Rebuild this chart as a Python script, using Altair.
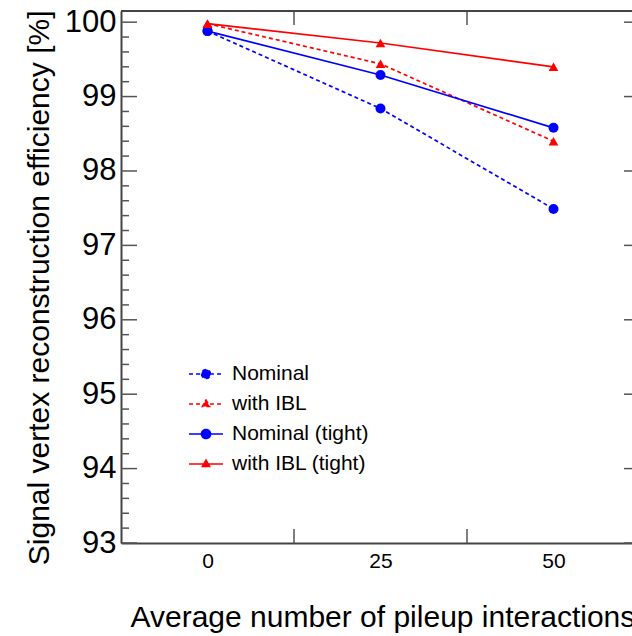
import altair as alt
import pandas as pd

# ---- data ----
pileup = [0, 25, 50]
nominal = [99.88, 98.84, 97.49]
with_ibl = [99.98, 99.44, 98.40]
nominal_tight = [99.88, 99.29, 98.58]
with_ibl_tight = [99.98, 99.72, 99.40]

series_names = ["Nominal", "with IBL", "Nominal (tight)", "with IBL (tight)"]
series_values = [nominal, with_ibl, nominal_tight, with_ibl_tight]
series_colors = ["#0000ff", "#ff0000", "#0000ff", "#ff0000"]
series_dashed = [True, True, False, False]
series_marker = ["circle", "triangle", "circle", "triangle"]

y_major = [93, 94, 95, 96, 97, 98, 99, 100]
y_minor = [round(93 + 0.2 * i, 1) for i in range(36) if i % 5 != 0]
x_labels = [0, 25, 50]
x_ticks = [12.5, 37.5]
x_domain = [-12.5, 62.5]
y_domain = [93, 100.15]

FONT = "Liberation Sans"
W, H = 511, 532
XR = 519  # x scale range end (frame extends past the window edge)

rows = []
for name, vals, dashed, marker in zip(series_names, series_values, series_dashed, series_marker):
    for x, v in zip(pileup, vals):
        rows.append({"series": name, "pileup": x, "eff": v,
                     "dashed": dashed, "marker": marker})
df = pd.DataFrame(rows)

xscale = alt.Scale(domain=x_domain, range=[0, XR], nice=False, zero=False)
yscale = alt.Scale(domain=y_domain, nice=False, zero=False)

xaxis = alt.Axis(
    values=x_labels, format="d", ticks=False, tickSize=0, grid=False,
    domain=True, domainColor="#444444", domainWidth=2,
    labelFont=FONT, labelFontSize=21, labelColor="black", labelPadding=7,
    title="Average number of pileup interactions",
    titleFont=FONT, titleFontSize=30, titleFontWeight="normal", titleColor="black",
    titleAnchor="start", titleAlign="left", titleBaseline="alphabetic",
    titleX=9, titleY=83,
)
yaxis = alt.Axis(
    values=y_major, format="d", ticks=False, tickSize=0, grid=False,
    domain=True, domainColor="#444444", domainWidth=2,
    labelFont=FONT, labelFontSize=31, labelColor="black", labelPadding=5,
    title="Signal vertex reconstruction efficiency [%]",
    titleFont=FONT, titleFontSize=30, titleFontWeight="normal", titleColor="black",
    titleAnchor="end", titleAlign="right", titleBaseline="alphabetic",
    titleAngle=270, titleX=-73, titleY=-1,
)


def xenc(field="pileup"):
    return alt.X(f"{field}:Q", scale=xscale, axis=xaxis)


def yenc(field="eff"):
    return alt.Y(f"{field}:Q", scale=yscale, axis=yaxis)


# colour scale for the data marks (domain order differs from the legend's so
# that the hidden colour legend is not merged with the visible one)
color_order = [1, 3, 0, 2]
color_enc = alt.Color(
    "series:N",
    scale=alt.Scale(domain=[series_names[i] for i in color_order],
                    range=[series_colors[i] for i in color_order]),
    legend=None,
)

base = alt.Chart(df)

dashed_lines = base.transform_filter("datum.dashed").mark_line(
    strokeWidth=1.7, strokeDash=[4, 3]).encode(x=xenc(), y=yenc(), color=color_enc, detail="series:N")
solid_lines = base.transform_filter("!datum.dashed").mark_line(
    strokeWidth=1.7).encode(x=xenc(), y=yenc(), color=color_enc, detail="series:N")
circles = base.transform_filter("datum.marker == 'circle'").mark_point(
    shape="circle", filled=True, size=100, opacity=1).encode(x=xenc(), y=yenc(), color=color_enc)
triangles = base.transform_filter("datum.marker == 'triangle'").mark_point(
    shape="triangle-up", filled=True, size=95, opacity=1).encode(x=xenc(), y=yenc(), color=color_enc)

# legend: line sample with the marker in its middle
path_circle = "M-1,0L1,0M-0.27,0A0.27,0.27,0,1,0,0.27,0A0.27,0.27,0,1,0,-0.27,0Z"
path_triangle = "M-1,0L1,0M0,-0.24L0.22,0.15L-0.22,0.15Z"
legend_paths = [path_circle if m == "circle" else path_triangle for m in series_marker]
legend_dash = [[4, 3] if d else [1, 0] for d in series_dashed]

leg = alt.Legend(
    title=None, orient="none", legendX=67, legendY=345, padding=0,
    labelFont=FONT, labelFontSize=21, labelColor="black", labelOffset=8,
    symbolSize=1156, symbolStrokeWidth=1.5, symbolOpacity=1, rowPadding=2,
)
# invisible carrier marks (size 0) whose only role is the legend
legend_layer = base.mark_point(filled=True, size=0, strokeWidth=0, opacity=1).encode(
    x=xenc(), y=yenc(),
    shape=alt.Shape("series:N", scale=alt.Scale(domain=series_names, range=legend_paths), legend=leg),
    fill=alt.Fill("series:N", scale=alt.Scale(domain=series_names, range=series_colors), legend=leg),
    stroke=alt.Stroke("series:N", scale=alt.Scale(domain=series_names, range=series_colors), legend=leg),
    strokeDash=alt.StrokeDash("series:N", scale=alt.Scale(domain=series_names, range=legend_dash), legend=leg),
)

# inward ticks (ROOT style) and top frame
TICK = "#555555"
ymaj_df = pd.DataFrame({"yt": y_major})
ymin_df = pd.DataFrame({"yt": y_minor})
xt_df = pd.DataFrame({"xt": x_ticks})

left_major = alt.Chart(ymaj_df).mark_rule(color=TICK, strokeWidth=1.5).encode(
    y=yenc("yt"), x=alt.value(0), x2=alt.value(16))
left_minor = alt.Chart(ymin_df).mark_rule(color=TICK, strokeWidth=1.5).encode(
    y=yenc("yt"), x=alt.value(0), x2=alt.value(8))
right_major = alt.Chart(ymaj_df).mark_rule(color=TICK, strokeWidth=1.5).encode(
    y=yenc("yt"), x=alt.value(XR), x2=alt.value(XR - 16))
right_minor = alt.Chart(ymin_df).mark_rule(color=TICK, strokeWidth=1.5).encode(
    y=yenc("yt"), x=alt.value(XR), x2=alt.value(XR - 8))
bottom_ticks = alt.Chart(xt_df).mark_rule(color=TICK, strokeWidth=1.5).encode(
    x=xenc("xt"), y=alt.value(H), y2=alt.value(H - 14))
top_ticks = alt.Chart(xt_df).mark_rule(color=TICK, strokeWidth=1.5).encode(
    x=xenc("xt"), y=alt.value(0), y2=alt.value(14))
top_frame = alt.Chart(xt_df).mark_rule(color="#444444", strokeWidth=2).encode(
    x=alt.value(0), x2=alt.value(XR), y=alt.value(0))

chart = alt.layer(
    left_major, left_minor, right_major, right_minor, bottom_ticks, top_ticks, top_frame,
    dashed_lines, solid_lines, circles, triangles, legend_layer,
).properties(
    width=W, height=H,
    padding={"left": 121, "top": 11, "right": 0, "bottom": 93},
    autosize=alt.AutoSizeParams(type="none"),
    background="white",
).configure_view(strokeOpacity=0)

chart.save("out.html", embed_options={"renderer": "svg", "actions": False})
